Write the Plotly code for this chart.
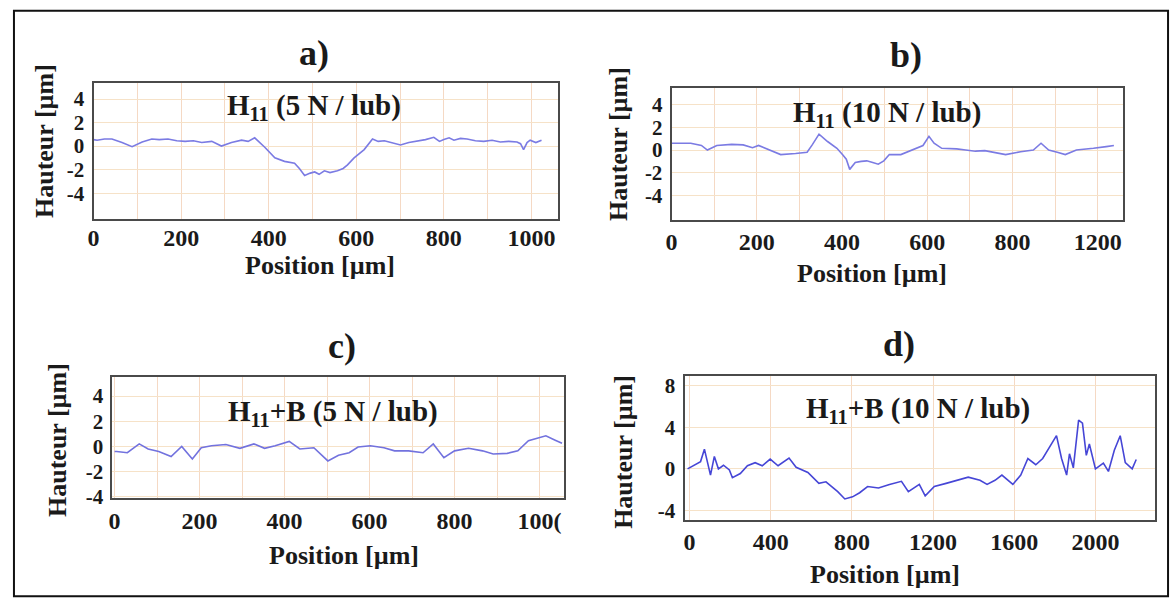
import plotly.graph_objects as go

W, H = 1176, 615

# ---------------- data ----------------
a_x = [0, 8, 25, 42, 65, 88, 111, 133, 150, 170, 190, 209, 228, 247, 270, 292, 315, 338, 353, 368,
       391, 414, 436, 459, 470, 482, 495, 505, 515, 527, 540, 557, 570, 580, 595, 618, 637, 650, 664,
       683, 701, 720, 739, 758, 777, 790, 800, 812, 823, 838, 853, 872, 891, 910, 929, 948, 967, 975,
       982, 990, 997, 1010, 1023]
a_y = [0.55, 0.5, 0.6, 0.6, 0.3, -0.05, 0.35, 0.6, 0.55, 0.6, 0.45, 0.4, 0.45, 0.3, 0.4, 0.0, 0.3,
       0.5, 0.4, 0.7, -0.1, -1.0, -1.3, -1.45, -1.9, -2.5, -2.3, -2.2, -2.4, -2.1, -2.25, -2.1, -1.9,
       -1.6, -1.0, -0.3, 0.6, 0.4, 0.45, 0.3, 0.1, 0.3, 0.4, 0.55, 0.75, 0.4, 0.55, 0.7, 0.5, 0.65,
       0.6, 0.45, 0.4, 0.5, 0.35, 0.4, 0.35, 0.2, -0.3, 0.3, 0.5, 0.3, 0.5]

b_x = [0, 5, 25, 45, 70, 84, 106, 141, 168, 190, 204, 230, 256, 291, 318, 330, 346, 366, 388, 401,
       410, 418, 431, 445, 458, 472, 485, 498, 511, 538, 564, 590, 604, 616, 634, 669, 690, 713, 735,
       757, 784, 819, 849, 867, 885, 905, 924, 950, 970, 990, 1020, 1038]
b_y = [0.6, 0.6, 0.55, 0.6, 0.4, 0.0, 0.4, 0.5, 0.45, 0.2, 0.4, 0.0, -0.4, -0.3, -0.2, 0.45, 1.4,
       0.75, 0.15, -0.4, -0.8, -1.7, -1.1, -1.0, -0.95, -1.1, -1.25, -0.95, -0.4, -0.4, 0.0, 0.4, 1.2,
       0.6, 0.15, 0.1, 0.0, -0.1, -0.05, -0.2, -0.4, -0.15, 0.0, 0.6, 0.0, -0.2, -0.4, 0.0, 0.05,
       0.15, 0.3, 0.4]

c_x = [0, 5, 30, 58, 79, 104, 133, 158, 183, 204, 228, 262, 295, 328, 353, 378, 411, 436, 469, 502,
       527, 552, 573, 602, 634, 659, 692, 726, 750, 775, 800, 833, 866, 891, 924, 949, 974, 998, 1015,
       1037, 1053]
c_y = [-0.4, -0.4, -0.5, 0.2, -0.2, -0.4, -0.8, 0.0, -1.0, -0.1, 0.05, 0.15, -0.15, 0.2, -0.15, 0.05,
       0.4, -0.2, -0.1, -1.15, -0.7, -0.5, -0.05, 0.05, -0.1, -0.35, -0.35, -0.5, 0.2, -0.9, -0.35,
       -0.15, -0.35, -0.6, -0.55, -0.35, 0.45, 0.65, 0.85, 0.5, 0.25]

d_x = [-10, 29, 54, 73, 88, 103, 122, 142, 167, 196, 211, 250, 285, 323, 358, 397, 436, 490, 525, 583,
       637, 672, 730, 765, 803, 838, 877, 931, 985, 1044, 1078, 1132, 1161, 1206, 1264, 1318, 1373,
       1431, 1466, 1505, 1539, 1593, 1632, 1667, 1706, 1740, 1779, 1808, 1833, 1858, 1872, 1891, 1917,
       1936, 1955, 1970, 2000, 2039, 2064, 2093, 2122, 2147, 2181, 2201]
d_y = [0.0, 0.4, 0.7, 1.9, 0.6, -0.6, 1.2, 0.0, 0.35, -0.1, -0.85, -0.45, 0.3, 0.6, 0.3, 0.95, 0.3,
       1.05, 0.15, -0.35, -1.4, -1.25, -2.2, -2.9, -2.7, -2.3, -1.7, -1.85, -1.5, -1.2, -2.2, -1.5,
       -2.6, -1.7, -1.4, -1.1, -0.8, -1.1, -1.5, -1.1, -0.6, -1.5, -0.6, 1.0, 0.4, 1.0, 2.25, 3.2, 1.0,
       -0.6, 1.45, 0.1, 4.7, 4.4, 1.3, 2.4, 0.0, 0.55, -0.25, 1.8, 3.2, 0.6, 0.0, 0.9]

# tick labels
ab_c_yticks = [4, 2, 0, -2, -4]
ab_c_ytext = ["4", "2", "0", "-2", "-4"]
a_xticks = [0, 200, 400, 600, 800, 1000]
a_xtext = ["0", "200", "400", "600", "800", "1000"]
b_xticks = [0, 200, 400, 600, 800, 1000]
b_xtext = ["0", "200", "400", "600", "800", "1200"]
c_xticks = [0, 200, 400, 600, 800, 1000]
c_xtext = ["0", "200", "400", "600", "800", "100("]
d_yticks = [8, 4, 0, -4]
d_ytext = ["8", "4", "0", "-4"]
d_xticks = [0, 400, 800, 1200, 1600, 2000]
d_xtext = ["0", "400", "800", "1200", "1600", "2000"]

panel_letters = ["a)", "b)", "c)", "d)"]
inner_titles = ["H<sub>11</sub> (5 N / lub)", "H<sub>11</sub> (10 N / lub)",
                "H<sub>11</sub>+B (5 N / lub)", "H<sub>11</sub>+B (10 N / lub)"]

# ---------------- layout helpers ----------------
def fx(px):
    return px / W

def fy(py):
    return 1 - py / H

FONT = "Liberation Serif"
TXT = "#1a1a1a"
XTICK = 24
YTICK = 21
AXT = 26

# pixel boxes: (left, top, right, bottom)
boxes = [(88, 84, 555, 222), (669, 89, 1123, 223), (107, 383, 561, 507), (682, 382, 1155, 529)]
xranges = [[0, 1061], [0, 1060], [-5, 1058], [-25, 2294]]
yranges = [[-6.17, 5.33], [-6.12, 5.43], [-4.1, 5.55], [-4.9, 9.0]]
xticks = [(a_xticks, a_xtext, 100), (b_xticks, b_xtext, 100), (c_xticks, c_xtext, 100), (d_xticks, d_xtext, 400)]
yticks = [(ab_c_yticks, ab_c_ytext, 2), (ab_c_yticks, ab_c_ytext, 2), (ab_c_yticks, ab_c_ytext, 2), (d_yticks, d_ytext, 4)]
series = [(a_x, a_y, "#7b7be3"), (b_x, b_y, "#7b7be3"), (c_x, c_y, "#7272de"), (d_x, d_y, "#4646d6")]
xstand = [-3, 0, 0, 0]

fig = go.Figure()
layout = dict(
    width=W, height=H, margin=dict(l=0, r=0, t=0, b=0),
    paper_bgcolor="white", plot_bgcolor="white", showlegend=False,
)

for i in range(4):
    n = "" if i == 0 else str(i + 1)
    L, T, R, B = boxes[i]
    xs, ys, col = series[i]
    fig.add_trace(go.Scatter(x=xs, y=ys, mode="lines", line=dict(color=col, width=1.6),
                             xaxis="x" + n, yaxis="y" + n, hoverinfo="skip"))
    xt, xtt, xgrid = xticks[i]
    yt, ytt, ygrid = yticks[i]
    layout["xaxis" + n] = dict(
        domain=[fx(L), fx(R)], range=xranges[i], anchor="y" + n,
        tickvals=xt, ticktext=xtt, ticks="", showgrid=False, zeroline=False,
        minor=dict(dtick=xgrid, tick0=0, showgrid=True, gridcolor="#f5d9c4", gridwidth=1),
        showline=True, mirror=True, linecolor="#4a4a4a", linewidth=2,
        tickfont=dict(family=FONT, size=XTICK, color=TXT, weight="bold"), ticklabelstandoff=xstand[i],
    )
    layout["yaxis" + n] = dict(
        domain=[fy(B), fy(T)], range=yranges[i], anchor="x" + n,
        tickvals=yt, ticktext=ytt, ticks="", showgrid=True, gridcolor="#f6e2c8", gridwidth=1,
        zeroline=False, showline=True, mirror=True, linecolor="#4a4a4a", linewidth=2,
        tickfont=dict(family=FONT, size=YTICK, color=TXT, weight="bold"), ticklabelstandoff=3,
    )

fig.update_layout(**layout)

ann = []
# panel letters
for txt, (px, py) in zip(panel_letters, [(310, 53), (905, 55), (338, 352), (898, 350)]):
    ann.append(dict(text=txt, x=fx(px), y=fy(py), font=dict(size=36, family=FONT, color=TXT, weight="bold")))
# inner titles
for txt, (px, py) in zip(inner_titles, [(310, 108), (886, 115), (329, 420), (917, 417)]):
    ann.append(dict(text=txt, x=fx(px), y=fy(py), font=dict(size=29, family=FONT, color=TXT, weight="bold")))
# x axis titles
for px, py in [(316, 270), (870, 278), (340, 566), (884, 585)]:
    ann.append(dict(text="Position [µm]", x=fx(px), y=fy(py), font=dict(size=AXT, family=FONT, color=TXT, weight="bold")))
# y axis titles
for px, py in [(38, 143), (615, 146), (52, 448), (620, 460)]:
    ann.append(dict(text="Hauteur [µm]", x=fx(px), y=fy(py), textangle=-90,
                    font=dict(size=AXT, family=FONT, color=TXT, weight="bold")))
for a in ann:
    a.update(xref="paper", yref="paper", showarrow=False, xanchor="center", yanchor="middle")
fig.update_layout(annotations=ann)

# outer frame of the figure
fig.add_shape(type="rect", xref="paper", yref="paper", x0=fx(8), x1=fx(1168), y0=fy(607), y1=fy(10),
              line=dict(color="#111", width=2), fillcolor="rgba(0,0,0,0)")

fig.write_html("out.html")
